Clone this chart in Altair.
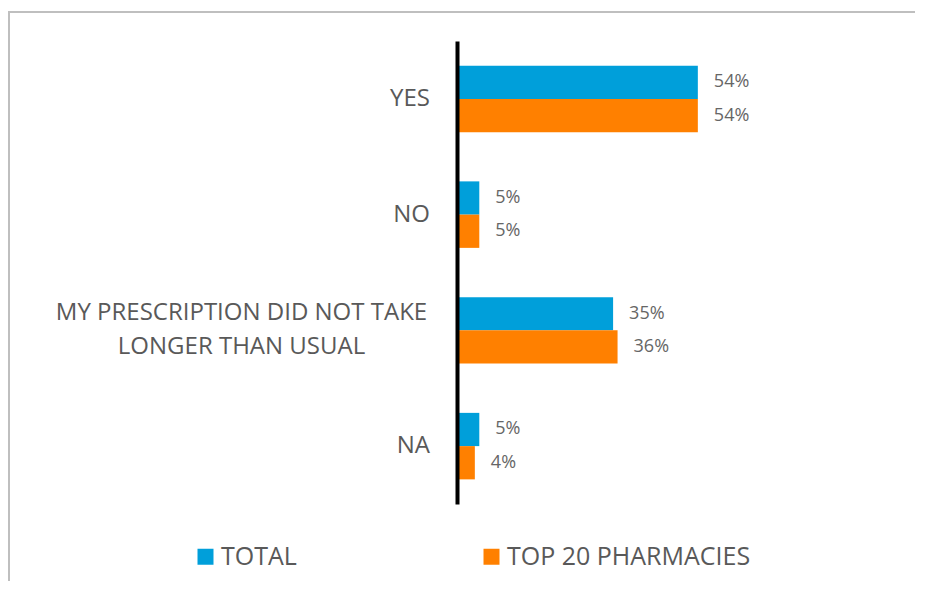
import altair as alt
import pandas as pd

categories = ["YES", "NO", "MY PRESCRIPTION DID NOT TAKE LONGER THAN USUAL", "NA"]
label_lines = [["YES"], ["NO"], ["MY PRESCRIPTION DID NOT TAKE", "LONGER THAN USUAL"], ["NA"]]
series_names = ["TOTAL", "TOP 20 PHARMACIES"]
total_values = [0.54, 0.05, 0.35, 0.05]
top20_values = [0.54, 0.05, 0.36, 0.04]
colors = ["#009FDA", "#FF8000"]

FONT = "Open Sans"
GRAY = "#595959"

rows = []
for c, t, p in zip(categories, total_values, top20_values):
    rows.append({"category": c, "series": series_names[0], "value": t})
    rows.append({"category": c, "series": series_names[1], "value": p})
df = pd.DataFrame(rows)

lab_df = pd.DataFrame({"category": categories, "text": label_lines,
                       "n": [len(l) for l in label_lines]})

y_enc = alt.Y("category:N", sort=categories,
              scale=alt.Scale(paddingInner=0.4255, paddingOuter=0.2128),
              axis=alt.Axis(title=None, labels=False, ticks=False, domain=True,
                            domainColor="black", domainWidth=4, zindex=2))
yoff = alt.YOffset("series:N", sort=series_names)
x_enc = alt.X("value:Q", scale=alt.Scale(domain=[0, 1]), axis=None)

border = alt.Chart(pd.DataFrame({"a": [0]})).mark_rect(
    filled=False, stroke="#BFBFBF", strokeWidth=2
).encode(x=alt.value(-448), x2=alt.value(700), y=alt.value(-29), y2=alt.value(800))

bars = alt.Chart(df).mark_bar().encode(
    y=y_enc, yOffset=yoff, x=x_enc,
    color=alt.Color("series:N", sort=series_names,
                    scale=alt.Scale(domain=series_names, range=colors),
                    legend=alt.Legend(orient="none", legendX=-264, legendY=503,
                                      direction="horizontal", title=None,
                                      symbolType="square", symbolSize=256,
                                      symbolStrokeWidth=0, labelFont=FONT,
                                      labelFontSize=25, labelColor=GRAY,
                                      labelOffset=3, columnPadding=182,
                                      labelLimit=500)),
)

values = alt.Chart(df).mark_text(
    align="left", baseline="middle", dx=16, font=FONT, fontSize=18, color="#666666"
).encode(y=alt.Y("category:N", sort=categories), yOffset=yoff, x=x_enc,
         text=alt.Text("value:Q", format=".0%"))

lab1 = alt.Chart(lab_df).transform_filter("datum.n == 1").mark_text(
    align="right", baseline="middle", font=FONT, fontSize=24, color=GRAY
).encode(y=alt.Y("category:N", sort=categories), x=alt.value(-27), text="text")

lab2 = alt.Chart(lab_df).transform_filter("datum.n > 1").mark_text(
    align="center", baseline="middle", font=FONT, fontSize=24, color=GRAY,
    lineHeight=34, dy=-17
).encode(y=alt.Y("category:N", sort=categories), x=alt.value(-215.5), text="text")

chart = alt.layer(border, bars, values, lab1, lab2).properties(
    width=446, height=463,
    autosize=alt.AutoSizeParams(type="none"),
    padding={"left": 449, "top": 33, "right": 12, "bottom": 77},
).configure_view(stroke=None)

chart.save("out.html", embed_options={"renderer": "svg", "actions": False})
